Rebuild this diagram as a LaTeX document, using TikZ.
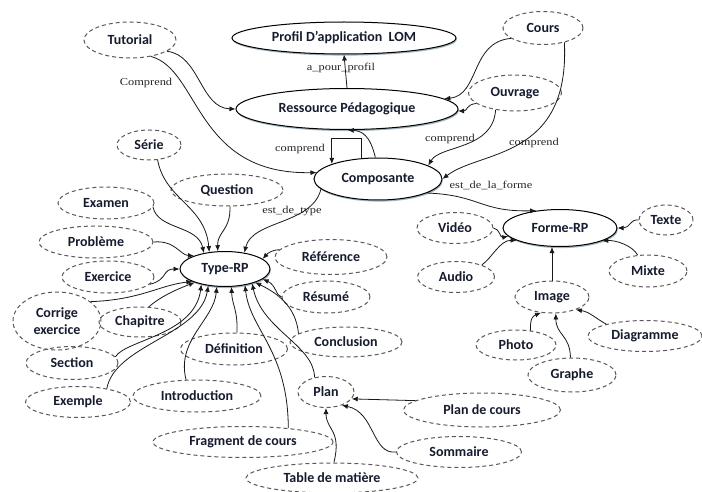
\documentclass[tikz,border=0pt]{standalone}
\usepackage{fontspec}
\setmainfont{Carlito}
\newfontfamily\relfont[FakeStretch=1.18]{Liberation Serif}
\usepackage{tikz}
\usepackage{xcolor}
\usetikzlibrary{shapes.geometric, arrows.meta, shadows}
\definecolor{textc}{RGB}{22,28,46}
\definecolor{shadowc}{RGB}{120,150,165}
\tikzstyle{arrow} = [line width=0.8pt, draw=black!90, -{Latex[length=6pt,width=5pt]}]

\begin{document}
\begin{tikzpicture}[x=1pt, y=-1pt]
\tikzstyle{solidnode} = [ellipse, draw=black, line width=1pt, fill=white, inner sep=0pt, text=textc, font=\fontsize{14}{16.5}\selectfont\bfseries, drop shadow={shadow xshift=0.8pt, shadow yshift=-1.6pt, fill=shadowc, opacity=0.7}]
\tikzstyle{dashnode} = [ellipse, draw=black!65, line width=1pt, dash pattern=on 4pt off 3pt, inner sep=0pt, text=textc, font=\fontsize{14}{16.5}\selectfont\bfseries, align=center]
\tikzstyle{relname} = [inner sep=0pt, text=black!85, font=\relfont\fontsize{10.5}{12}\selectfont]

\path [fill=white, use as bounding box] (0,0) rectangle (702,492);

% ressource, composante and the profile
\node (profil) [solidnode, minimum width=224pt, minimum height=32pt] at (344,38) {Profil D'application\ \ LOM};
\node (ressource) [solidnode, minimum width=222pt, minimum height=41pt] at (347,109) {Ressource Pédagogique};
\node (composante) [solidnode, minimum width=128pt, minimum height=42pt] at (378,179) {Composante};
\node (typerp) [solidnode, minimum width=90pt, minimum height=35pt] at (225,269) {Type-RP};
\node (formerp) [solidnode, minimum width=114pt, minimum height=37pt] at (560,228) {Forme-RP};

% kinds of ressource
\node (tutorial) [dashnode, minimum width=92pt, minimum height=36pt] at (130,40) {Tutorial};
\node (cours) [dashnode, minimum width=80pt, minimum height=33pt] at (543,28) {Cours};
\node (ouvrage) [dashnode, minimum width=93pt, minimum height=36pt] at (515,93) {Ouvrage};

% types
\node (serie) [dashnode, minimum width=64pt, minimum height=30pt] at (149,145) {Série};
\node (question) [dashnode, minimum width=112pt, minimum height=32pt] at (227,190) {Question};
\node (examen) [dashnode, minimum width=96pt, minimum height=32pt] at (106,203) {Examen};
\node (probleme) [dashnode, minimum width=114pt, minimum height=32pt] at (96,242) {Problème};
\node (exercice) [dashnode, minimum width=92pt, minimum height=32pt] at (108,277) {Exercice};
\node (reference) [dashnode, minimum width=112pt, minimum height=35pt] at (331,257) {Référence};
\node (resume) [dashnode, minimum width=88pt, minimum height=32pt] at (326,297) {Résumé};
\node (corrige) [dashnode, minimum width=88pt, minimum height=58pt] at (57,321) {Corrige\\exercice};
\node (chapitre) [dashnode, minimum width=82pt, minimum height=30pt] at (140,322) {Chapitre};
\node (definition) [dashnode, minimum width=107pt, minimum height=32pt] at (234,349) {Définition};
\node (conclusion) [dashnode, minimum width=112pt, minimum height=30pt] at (346,342) {Conclusion};
\node (section) [dashnode, minimum width=92pt, minimum height=33pt] at (72,363) {Section};
\node (exemple) [dashnode, minimum width=105pt, minimum height=31pt] at (78,402) {Exemple};
\node (introduction) [dashnode, minimum width=128pt, minimum height=32pt] at (197,396) {Introduction};
\node (fragment) [dashnode, minimum width=180pt, minimum height=31pt] at (243,442) {Fragment de cours};
\node (plan) [dashnode, minimum width=56pt, minimum height=31pt] at (326,392) {Plan};
\node (plancours) [dashnode, minimum width=157pt, minimum height=34pt] at (482,410) {Plan de cours};
\node (sommaire) [dashnode, minimum width=125pt, minimum height=31pt] at (459,452) {Sommaire};
\node (table) [dashnode, minimum width=172pt, minimum height=30pt] at (332,478) {Table de matière};

% forms
\node (video) [dashnode, minimum width=76pt, minimum height=31pt] at (455,228) {Vidéo};
\node (audio) [dashnode, minimum width=77pt, minimum height=31pt] at (456,277) {Audio};
\node (texte) [dashnode, minimum width=54pt, minimum height=30pt] at (666,220) {Texte};
\node (mixte) [dashnode, minimum width=78pt, minimum height=32pt] at (648,271) {Mixte};
\node (image) [dashnode, minimum width=74pt, minimum height=32pt] at (552,297) {Image};
\node (photo) [dashnode, minimum width=80pt, minimum height=30pt] at (516,345) {Photo};
\node (diagramme) [dashnode, minimum width=114pt, minimum height=31pt] at (645,336) {Diagramme};
\node (graphe) [dashnode, minimum width=88pt, minimum height=34pt] at (572,375) {Graphe};

% relation names
\node (relprofil) [relname] at (341,68) {a\_pour\_profil};
\node (reltutorial) [relname] at (146,83) {Comprend};
\node (relloop) [relname] at (300,149) {comprend};
\node (relouvrage) [relname] at (450,139) {comprend};
\node (relcours) [relname] at (534,143) {comprend};
\node (relforme) [relname] at (491,185) {est\_de\_la\_forme};
\node (reltype) [relname] at (292,211) {est\_de\_type};

% upper part
\draw [arrow] (ressource.north) -- (profil.south);
\draw [arrow] (tutorial.343) .. controls (200,55) and (200,108) .. (ressource.west);
\draw [arrow] (tutorial.322) .. controls (200,70) and (195,175) .. (composante.174);
\draw [arrow] (cours.198) .. controls (470,42) and (480,95) .. (ressource.6);
\draw [arrow] (ouvrage.195) .. controls (465,105) and (468,111) .. (ressource.359);
\draw [arrow] (ouvrage.221) .. controls (493,150) and (440,145) .. (composante.15);
\draw [arrow] (cours.326) .. controls (570,160) and (480,150) .. (composante.east);
\draw [arrow] (composante.97) .. controls (370,135) and (362,131) .. (ressource.272);
\draw [arrow] (composante.128) -- ++(0,-20) -| (composante.162);
\draw [arrow] (composante.344) .. controls (480,195) and (480,212) .. (formerp.144);
\draw [arrow] (composante.190) .. controls (312,225) and (252,220) .. (typerp.40);

% into Type-RP
\draw [arrow] (serie.300) .. controls (165,200) and (205,205) .. (typerp.133);
\draw [arrow] (examen.355) .. controls (158,230) and (198,225) .. (typerp.143);
\draw [arrow] (question.280) .. controls (231,230) and (217,232) .. (typerp.112);
\draw [arrow] (probleme.east) .. controls (175,240) and (180,255) .. (typerp.157);
\draw [arrow] (exercice.350) .. controls (168,280) and (162,269) .. (typerp.west);
\draw [arrow] (reference.172) .. controls (272,250) and (268,253) .. (typerp.15);
\draw [arrow] (resume.west) .. controls (276,296) and (276,285) .. (typerp.345);
\draw [arrow] (corrige.30) .. controls (140,300) and (160,285) .. (typerp.201);
\draw [arrow] (chapitre.60) .. controls (160,297) and (175,290) .. (typerp.204);
\draw [arrow] (section.8) .. controls (125,340) and (195,335) .. (typerp.213);
\draw [arrow] (exemple.25) .. controls (115,345) and (200,335) .. (typerp.225);
\draw [arrow] (introduction.124) .. controls (176,340) and (214,320) .. (typerp.245);
\draw [arrow] (definition.80) .. controls (238,310) and (232,305) .. (typerp.290);
\draw [arrow] (fragment.17) .. controls (288,350) and (250,330) .. (typerp.321);
\draw [arrow] (plan.128) .. controls (314,345) and (262,330) .. (typerp.332);
\draw [arrow] (conclusion.170) .. controls (296,305) and (275,292) .. (typerp.336);

% into Plan
\draw [arrow] (plancours.172) -- (plan.345);
\draw [arrow] (sommaire.west) .. controls (372,455) and (375,412) .. (plan.320);
\draw [arrow] (table.83) .. controls (342,430) and (326,430) .. (plan.south);

% into Forme-RP and Image
\draw [arrow] (video.east) .. controls (500,229) and (500,238) .. (formerp.189);
\draw [arrow] (audio.25) .. controls (492,258) and (500,240) .. (formerp.196);
\draw [arrow] (texte.west) .. controls (630,219) and (630,228) .. (formerp.east);
\draw [arrow] (mixte.123) .. controls (632,245) and (615,240) .. (formerp.343);
\draw [arrow] (image.north) -- (image.north |- formerp.south);
\draw [arrow] (photo.45) .. controls (530,318) and (533,316) .. (image.235);
\draw [arrow] (graphe.95) .. controls (570,335) and (556,335) .. (image.283);
\draw [arrow] (diagramme.163) .. controls (595,318) and (590,312) .. (image.332);

\end{tikzpicture}
\end{document}
